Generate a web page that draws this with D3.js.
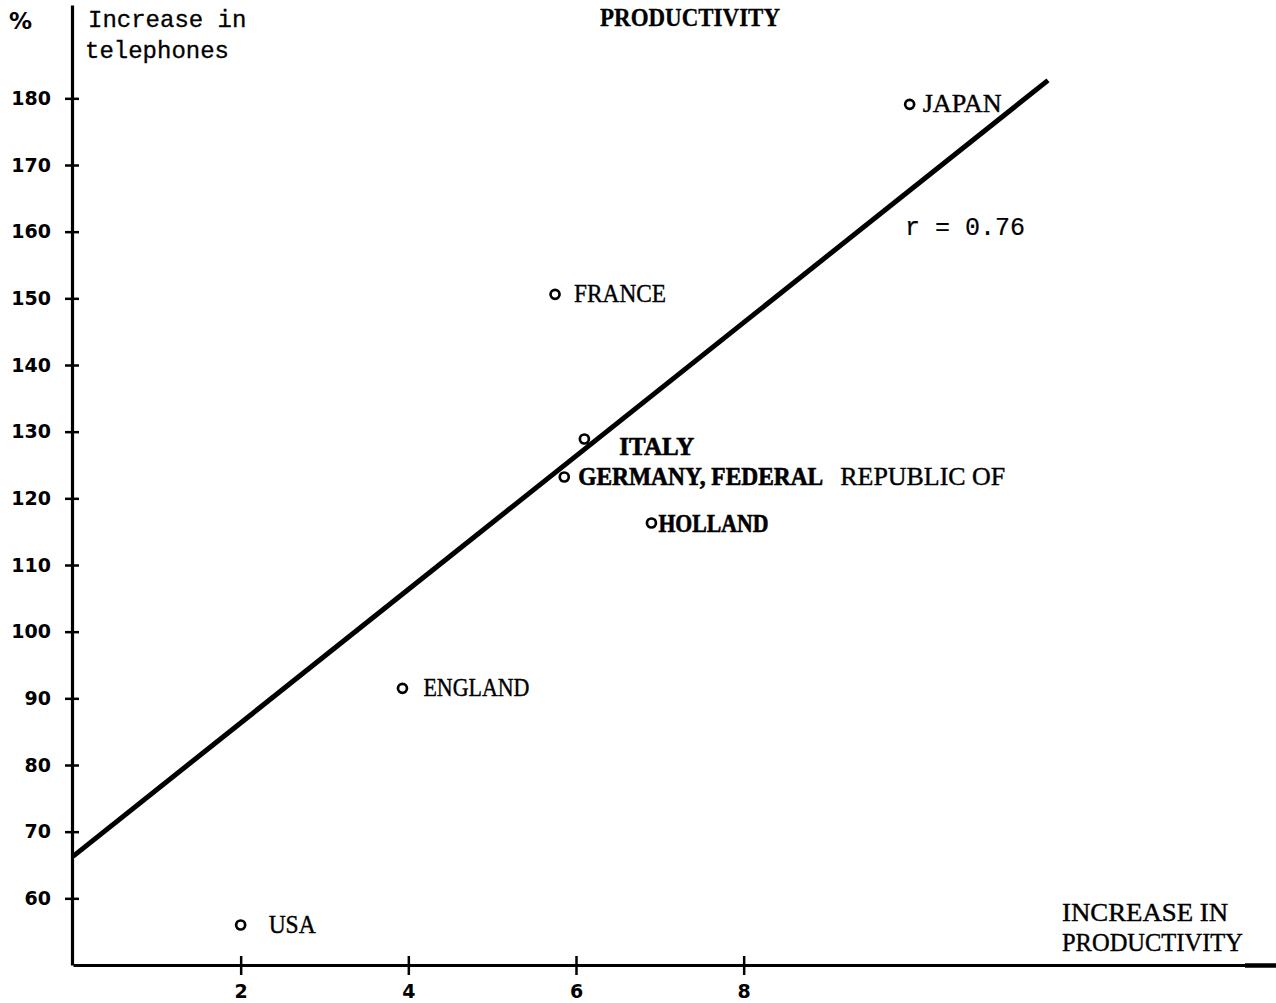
<!DOCTYPE html>
<html>
<head>
<meta charset="utf-8">
<script src="https://cdn.jsdelivr.net/npm/d3@7"></script>
<style>
  html, body { margin: 0; padding: 0; background: #fff; }
  svg { display: block; }
  .type { font-family: "Liberation Mono", "DejaVu Sans Mono", monospace; fill: #000; }
  .caps { font-family: "Liberation Serif", "DejaVu Serif", serif; fill: #000; }
  .tick text { font-family: "DejaVu Sans", sans-serif; font-weight: bold; font-size: 19px; fill: #000; }
</style>
</head>
<body>
<svg id="chart" width="1276" height="1003"></svg>
<script>
// Countries: average annual productivity increase (%) vs increase in telephones (%)
const countries = ["USA", "ENGLAND", "FRANCE", "ITALY", "GERMANY", "HOLLAND", "JAPAN"];
const productivity = [2.0, 3.93, 5.75, 6.1, 5.86, 6.9, 9.98];
const telephones = [56, 91.5, 150.6, 128.9, 123.2, 116.3, 179.1];

// Fitted line, given by its two end points
const fitX = [0, 11.63];
const fitY = [66.3, 182.7];
const correlation = "r = 0.76";

const xTicks = [2, 4, 6, 8];
const yTicks = [60, 70, 80, 90, 100, 110, 120, 130, 140, 150, 160, 170, 180];

const svg = d3.select("#chart");

const x = d3.scaleLinear().domain([0, 14.35]).range([73, 1276]);
const y = d3.scaleLinear().domain([50, 194]).range([965, 5]);

// Y axis with ticks crossing the line
const yAxis = svg.append("g")
  .attr("transform", `translate(${x(0) - 1},0)`)
  .call(d3.axisLeft(y).tickValues(yTicks).tickSize(7).tickSizeOuter(0).tickPadding(14));
yAxis.select(".domain").attr("stroke", "#000").attr("stroke-width", 3.2);
yAxis.selectAll(".tick line").attr("x1", 7).attr("stroke", "#000").attr("stroke-width", 2.5);

// X axis, running to the right edge
const xAxis = svg.append("g")
  .attr("transform", `translate(0,${y(50)})`)
  .call(d3.axisBottom(x).tickValues(xTicks).tickSize(10).tickSizeOuter(0).tickPadding(10));
xAxis.select(".domain").attr("stroke", "#000").attr("stroke-width", 3);
xAxis.selectAll(".tick line").attr("y1", -9).attr("stroke", "#000").attr("stroke-width", 2.5);

// Heavier stub at the right end of the x axis
svg.append("line")
  .attr("x1", 1245).attr("x2", 1276)
  .attr("y1", y(50) + 0.5).attr("y2", y(50) + 0.5)
  .attr("stroke", "#000").attr("stroke-width", 4.5);

// Fitted line
svg.append("line")
  .attr("x1", x(fitX[0])).attr("y1", y(fitY[0]))
  .attr("x2", x(fitX[1])).attr("y2", y(fitY[1]))
  .attr("stroke", "#000").attr("stroke-width", 5);

// Country points
const pts = countries.map((c, i) => ({ name: c, px: productivity[i], ty: telephones[i] }));
svg.append("g").selectAll("circle").data(pts).join("circle")
  .attr("cx", d => x(d.px)).attr("cy", d => y(d.ty))
  .attr("r", 4.5).attr("fill", "#fff").attr("stroke", "#000").attr("stroke-width", 2.7);

// Label placement next to each point (offsets and typed widths)
const labelLayout = {
  USA: { dx: 28, dy: 8, w: 47, bold: false },
  ENGLAND: { dx: 21, dy: 8, w: 106, bold: false },
  FRANCE: { dx: 19, dy: 8, w: 92, bold: false },
  ITALY: { dx: 35, dy: 16, w: 75, bold: true },
  HOLLAND: { dx: 7, dy: 9, w: 110, bold: true },
  JAPAN: { dx: 13, dy: 8, w: 79, bold: false }
};
const labelSize = 24.5;

const labels = svg.append("g");
pts.forEach(d => {
  const cx = x(d.px), cy = y(d.ty);
  if (d.name === "GERMANY") {
    labels.append("text").attr("class", "caps")
      .attr("x", cx + 14).attr("y", cy + 8).attr("font-size", labelSize)
      .attr("font-weight", "bold").attr("stroke", "#000").attr("stroke-width", 0.6)
      .attr("textLength", 245).attr("lengthAdjust", "spacingAndGlyphs")
      .text("GERMANY, FEDERAL");
    labels.append("text").attr("class", "caps")
      .attr("x", cx + 276).attr("y", cy + 8).attr("font-size", labelSize)
      .attr("stroke", "#000").attr("stroke-width", 0.4)
      .attr("textLength", 165).attr("lengthAdjust", "spacingAndGlyphs")
      .text("REPUBLIC OF");
    return;
  }
  const L = labelLayout[d.name];
  labels.append("text").attr("class", "caps")
    .attr("x", cx + L.dx).attr("y", cy + L.dy)
    .attr("font-size", labelSize)
    .attr("font-weight", L.bold ? "bold" : "normal")
    .attr("stroke", "#000").attr("stroke-width", L.bold ? 0.6 : 0.4)
    .attr("textLength", L.w).attr("lengthAdjust", "spacingAndGlyphs")
    .text(d.name);
});

// Correlation note
svg.append("text").attr("class", "type")
  .attr("x", 905).attr("y", 235).attr("font-size", 25)
  .attr("stroke", "#000").attr("stroke-width", 0.2)
  .text(correlation);

// Heading
svg.append("text").attr("class", "caps")
  .attr("x", 600).attr("y", 26).attr("font-size", 26)
  .attr("font-weight", "bold").attr("stroke", "#000").attr("stroke-width", 0.3)
  .attr("textLength", 180).attr("lengthAdjust", "spacingAndGlyphs")
  .text("PRODUCTIVITY");

// Y axis unit and title
svg.append("text")
  .attr("x", 9).attr("y", 29)
  .attr("font-family", "DejaVu Sans, sans-serif").attr("font-weight", "bold").attr("font-size", 23)
  .text("%");
svg.append("text").attr("class", "type")
  .attr("x", 88).attr("y", 27).attr("font-size", 24)
  .attr("stroke", "#000").attr("stroke-width", 0.3)
  .text("Increase in");
svg.append("text").attr("class", "type")
  .attr("x", 85).attr("y", 58).attr("font-size", 24)
  .attr("stroke", "#000").attr("stroke-width", 0.3)
  .text("telephones");

// X axis title
svg.append("text").attr("class", "caps")
  .attr("x", 1062).attr("y", 921).attr("font-size", labelSize)
  .attr("stroke", "#000").attr("stroke-width", 0.4)
  .attr("textLength", 166).attr("lengthAdjust", "spacingAndGlyphs")
  .text("INCREASE IN");
svg.append("text").attr("class", "caps")
  .attr("x", 1062).attr("y", 951).attr("font-size", labelSize)
  .attr("stroke", "#000").attr("stroke-width", 0.4)
  .attr("textLength", 181).attr("lengthAdjust", "spacingAndGlyphs")
  .text("PRODUCTIVITY");
</script>
</body>
</html>
